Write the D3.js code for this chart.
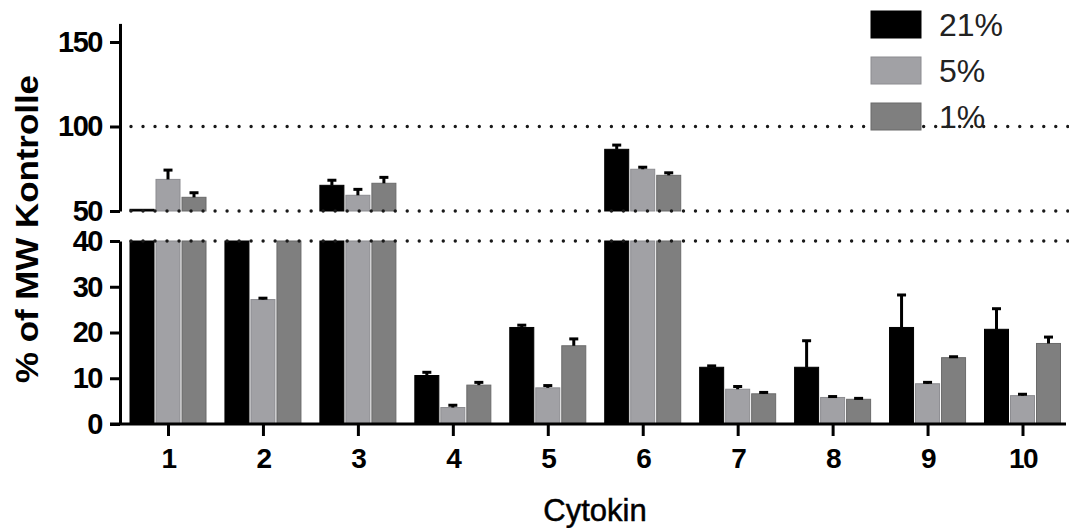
<!DOCTYPE html>
<html>
<head>
<meta charset="utf-8">
<script src="https://cdn.jsdelivr.net/npm/d3@7/dist/d3.min.js"></script>
<style>
  html, body { margin: 0; padding: 0; background: #fff; }
  svg { display: block; }
  text { font-family: "Liberation Sans", Arial, sans-serif; }
</style>
</head>
<body>
<svg id="chart" width="1069" height="528"></svg>
<script>
// Cytokine levels relative to the MW control, by oxygen level
const categories = ["1", "2", "3", "4", "5", "6", "7", "8", "9", "10"];
const series = ["21%", "5%", "1%"];

const values21 = [51, 44, 65.2, 10.6, 21.1, 86.5, 12.4, 12.4, 21.1, 20.7];
const errors21 = [0, 0, 3.0, 0.7, 0.5, 2.5, 0.3, 5.8, 7.1, 4.5];
const values5  = [68.7, 27.2, 59.3, 3.6, 7.9, 74.7, 7.6, 5.8, 8.8, 6.2];
const errors5  = [5.5, 0.3, 3.5, 0.5, 0.5, 1.2, 0.6, 0.2, 0.3, 0.3];
const values1  = [58.1, 46, 66.4, 8.5, 17.1, 71.1, 6.6, 5.4, 14.5, 17.6];
const errors1  = [2.7, 0, 3.5, 0.6, 1.5, 1.5, 0.3, 0.2, 0.2, 1.4];

const lowerTicks = [0, 10, 20, 30, 40];
const upperTicks = [50, 100, 150];
const referenceLines = [100, 50, 40];

const yTitle = "% of MW Kontrolle";
const xTitle = "Cytokin";

const fills   = { "21%": "#000000", "5%": "#a1a1a5", "1%": "#7f7f7f" };
const strokes = { "21%": "#000000", "5%": "#8c8c90", "1%": "#6b6b6b" };

const table = [];
categories.forEach((c, i) => {
  table.push({ cat: c, s: "21%", v: values21[i], e: errors21[i] });
  table.push({ cat: c, s: "5%",  v: values5[i],  e: errors5[i] });
  table.push({ cat: c, s: "1%",  v: values1[i],  e: errors1[i] });
});

const svg = d3.select("#chart");
svg.append("rect").attr("width", 1069).attr("height", 528).attr("fill", "#fff");

const axisX = 120;
const x = d3.scalePoint().domain(categories).range([168, 1022.5]);
const xs = d3.scaleBand().domain(series).range([-40, 40])
  .paddingInner(2 / 26).paddingOuter(2 / 26);

// Broken value axis: a lower segment 0–40 and an upper segment from 50
const yLow = d3.scaleLinear().domain([0, 40]).range([424, 241]);
const yHigh = d3.scaleLinear().domain([50, 161]).range([211, 23.4]);

const bars = svg.append("g");

// lower segment bars (clipped at 40)
bars.selectAll("rect.low").data(table).join("rect")
  .attr("class", "low")
  .attr("x", d => x(d.cat) + xs(d.s))
  .attr("width", xs.bandwidth())
  .attr("y", d => yLow(Math.min(d.v, 40)))
  .attr("height", d => yLow(0) - yLow(Math.min(d.v, 40)))
  .attr("fill", d => fills[d.s])
  .attr("stroke", d => strokes[d.s])
  .attr("stroke-width", 1);

// upper segment bars (starting at 50)
bars.selectAll("rect.high").data(table.filter(d => d.v > 50)).join("rect")
  .attr("class", "high")
  .attr("x", d => x(d.cat) + xs(d.s))
  .attr("width", xs.bandwidth())
  .attr("y", d => yHigh(d.v))
  .attr("height", d => yHigh(50) - yHigh(d.v))
  .attr("fill", d => fills[d.s])
  .attr("stroke", d => strokes[d.s])
  .attr("stroke-width", 1);

// upward error bars with caps
const errs = table.filter(d => d.e > 0 && (d.v <= 40 || d.v > 50)).map(d => {
  const sc = d.v <= 40 ? yLow : yHigh;
  return { cx: x(d.cat) + xs(d.s) + xs.bandwidth() / 2, y0: sc(d.v), y1: sc(d.v + d.e) };
});
const eg = svg.append("g").attr("stroke", "#000").attr("stroke-width", 3);
eg.selectAll("line.stem").data(errs).join("line")
  .attr("x1", d => d.cx).attr("x2", d => d.cx)
  .attr("y1", d => d.y0).attr("y2", d => d.y1);
eg.selectAll("line.cap").data(errs).join("line")
  .attr("x1", d => d.cx - 4.5).attr("x2", d => d.cx + 4.5)
  .attr("y1", d => d.y1).attr("y2", d => d.y1);

// dotted reference lines
svg.append("g").selectAll("line").data(referenceLines).join("line")
  .attr("x1", 131).attr("x2", 1069)
  .attr("y1", d => d >= 50 ? yHigh(d) : yLow(d))
  .attr("y2", d => d >= 50 ? yHigh(d) : yLow(d))
  .attr("stroke", "#1a1a1a")
  .attr("stroke-width", 3.4)
  .attr("stroke-linecap", "round")
  .attr("stroke-dasharray", "0.01 12");

// axes
function styleAxis(g) {
  g.selectAll("path, line").attr("stroke", "#000").attr("stroke-width", 3);
  g.selectAll("text")
    .attr("fill", "#000")
    .attr("font-size", 29)
    .attr("font-weight", "bold")
    .attr("letter-spacing", -1.5)
    .attr("font-family", "'Liberation Sans', Arial, sans-serif");
}

const gLow = svg.append("g").attr("transform", `translate(${axisX},0)`)
  .call(d3.axisLeft(yLow).tickValues(lowerTicks).tickSize(10).tickSizeOuter(0).tickPadding(8));
styleAxis(gLow);

const gHigh = svg.append("g").attr("transform", `translate(${axisX},0)`)
  .call(d3.axisLeft(yHigh).tickValues(upperTicks).tickSize(10).tickSizeOuter(0).tickPadding(8));
styleAxis(gHigh);

// x baseline
svg.append("line")
  .attr("x1", 110).attr("x2", 1066)
  .attr("y1", yLow(0)).attr("y2", yLow(0))
  .attr("stroke", "#000").attr("stroke-width", 3);

const gX = svg.append("g").attr("transform", `translate(0,${yLow(0)})`)
  .call(d3.axisBottom(x).tickSize(12).tickSizeOuter(0).tickPadding(12));
gX.select(".domain").remove();
styleAxis(gX);
gX.selectAll("text").attr("font-size", 28);

// axis titles
svg.append("text")
  .attr("transform", "translate(27,229) rotate(-90)")
  .attr("text-anchor", "middle")
  .attr("dominant-baseline", "central")
  .attr("font-size", 31)
  .attr("font-weight", "bold")
  .attr("textLength", 308)
  .attr("lengthAdjust", "spacingAndGlyphs")
  .attr("fill", "#000")
  .text(yTitle);

svg.append("text")
  .attr("x", 595).attr("y", 521)
  .attr("text-anchor", "middle")
  .attr("font-size", 31)
  .attr("fill", "#000")
  .attr("stroke", "#000")
  .attr("stroke-width", 0.5)
  .text(xTitle);

// legend
const legend = svg.append("g").selectAll("g").data(series).join("g")
  .attr("transform", (d, i) => `translate(871,${11 + i * 46})`);
legend.append("rect")
  .attr("width", 50).attr("height", 27)
  .attr("fill", d => fills[d])
  .attr("stroke", d => strokes[d])
  .attr("stroke-width", 1);
legend.append("text")
  .attr("x", 68).attr("y", 25)
  .attr("font-size", 32)
  .attr("fill", "#222")
  .text(d => d);
</script>
</body>
</html>
